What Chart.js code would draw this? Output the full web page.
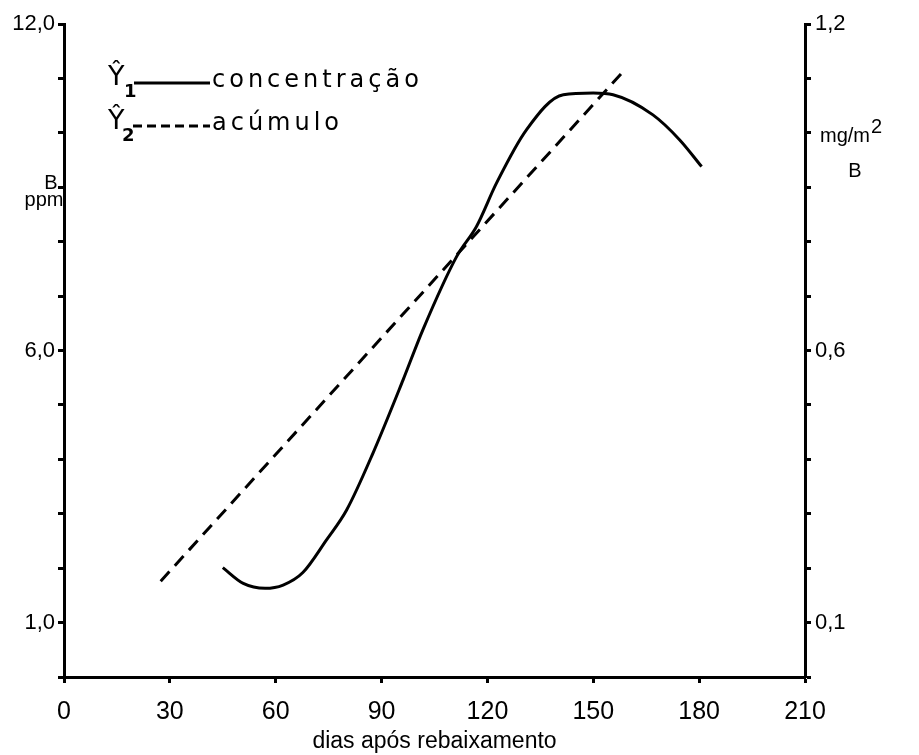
<!DOCTYPE html>
<html>
<head>
<meta charset="utf-8">
<script src="https://cdn.jsdelivr.net/npm/chart.js@4.4.1/dist/chart.umd.min.js"></script>
<style>
  html, body { margin: 0; padding: 0; background: #fff; }
  #wrap { width: 919px; height: 755px; }
</style>
</head>
<body>
<div id="wrap"><canvas id="grafico"></canvas></div>
<script>
// dias após rebaixamento
const concDias = [45, 50.8, 57, 62.1, 67.7, 74.4, 80.1, 87.6, 96.1, 101.7, 111.3, 116.9, 122.6, 131.1, 141.5, 150, 155.6, 166.9, 174.5, 180.7];
// concentração de B (ppm), eixo da esquerda
const concPpm = [2.01, 1.72, 1.63, 1.69, 1.92, 2.52, 3.07, 4.12, 5.46, 6.38, 7.73, 8.28, 9.08, 10.06, 10.70, 10.73, 10.70, 10.33, 9.87, 9.38];
// acúmulo de B (mg/m2), eixo da direita - reta
const acumDias = [27.4, 158.5];
const acumMg = [0.176, 1.113];

const rotulosPpm = { 1: '1,0', 6: '6,0', 12: '12,0' };
const rotulosMg = { 1: '0,1', 6: '0,6', 12: '1,2' };

const fonte = "'Liberation Sans', sans-serif";
const fonteEstreita = "'Liberation Sans Narrow', 'Liberation Sans', sans-serif";

const anotacoes = {
  id: 'anotacoes',
  afterDraw (chart) {
    const ctx = chart.ctx;
    ctx.save();
    ctx.fillStyle = '#000';
    ctx.strokeStyle = '#000';
    ctx.textBaseline = 'middle';

    // legenda
    ctx.font = "27px 'DejaVu Sans', sans-serif";
    ctx.fillText('Ŷ', 108, 78);
    ctx.fillText('Ŷ', 108, 122);
    ctx.font = "bold 18px 'DejaVu Sans', sans-serif";
    ctx.fillText('1', 124, 92);
    ctx.fillText('2', 122, 136);

    ctx.lineWidth = 3;
    ctx.beginPath();
    ctx.moveTo(134, 83);
    ctx.lineTo(210, 83);
    ctx.stroke();
    ctx.setLineDash([9, 5]);
    ctx.beginPath();
    ctx.moveTo(133, 126);
    ctx.lineTo(210, 126);
    ctx.stroke();
    ctx.setLineDash([]);

    ctx.font = "24px 'DejaVu Sans', sans-serif";
    ctx.letterSpacing = '4px';
    ctx.fillText('concentração', 212, 81);
    ctx.fillText('acúmulo', 212, 124);
    ctx.letterSpacing = '0px';

    // títulos dos eixos y
    ctx.font = '20px ' + fonte;
    ctx.textAlign = 'center';
    ctx.fillText('B', 51, 183);
    ctx.fillText('ppm', 44, 200);
    ctx.fillText('B', 855, 171);
    ctx.textAlign = 'left';
    ctx.font = '20px ' + fonte;
    ctx.fillText('mg/m', 820, 136);
    const w = ctx.measureText('mg/m').width;
    ctx.fillText('2', 820 + w + 1, 127);
    ctx.restore();
  }
};

new Chart(document.getElementById('grafico'), {
  type: 'line',
  data: {
    datasets: [{
      label: 'concentração',
      data: concDias.map((d, i) => ({ x: d, y: concPpm[i] })),
      yAxisID: 'y',
      borderColor: '#000',
      borderWidth: 3,
      pointRadius: 0,
      cubicInterpolationMode: 'monotone'
    }, {
      label: 'acúmulo',
      data: acumDias.map((d, i) => ({ x: d, y: acumMg[i] })),
      yAxisID: 'y2',
      borderColor: '#000',
      borderWidth: 3,
      borderDash: [13, 8],
      pointRadius: 0
    }]
  },
  options: {
    responsive: true,
    maintainAspectRatio: false,
    animation: false,
    layout: { padding: { top: 24, left: 0, right: 0, bottom: 0 } },
    plugins: {
      legend: { display: false },
      tooltip: { enabled: false }
    },
    scales: {
      x: {
        type: 'linear',
        min: 0,
        max: 210,
        afterFit (scale) { scale.height = 78; },
        ticks: {
          stepSize: 30,
          color: '#000',
          padding: 14,
          font: { family: fonteEstreita, size: 25 }
        },
        grid: { drawOnChartArea: false, color: '#000', tickLength: 6, tickWidth: 3 },
        border: { color: '#000', width: 3 },
        title: {
          display: true,
          text: 'dias após rebaixamento',
          color: '#000',
          padding: 0,
          font: { family: fonte, size: 23 }
        }
      },
      y: {
        position: 'left',
        min: 0,
        max: 12,
        afterFit (scale) { scale.width = 64; },
        ticks: {
          stepSize: 1,
          color: '#000',
          padding: 3,
          font: { family: fonteEstreita, size: 22 },
          callback: v => rotulosPpm[v] || ''
        },
        grid: { drawOnChartArea: false, color: '#000', tickLength: 6, tickWidth: 3 },
        border: { color: '#000', width: 3 }
      },
      y2: {
        position: 'right',
        min: 0,
        max: 1.2,
        afterFit (scale) { scale.width = 114; },
        ticks: {
          stepSize: 0.1,
          color: '#000',
          padding: 4,
          font: { family: fonteEstreita, size: 22 },
          callback: v => rotulosMg[Math.round(v * 10)] || ''
        },
        grid: { drawOnChartArea: false, color: '#000', tickLength: 6, tickWidth: 3 },
        border: { color: '#000', width: 3 }
      }
    }
  },
  plugins: [anotacoes]
});
</script>
</body>
</html>
